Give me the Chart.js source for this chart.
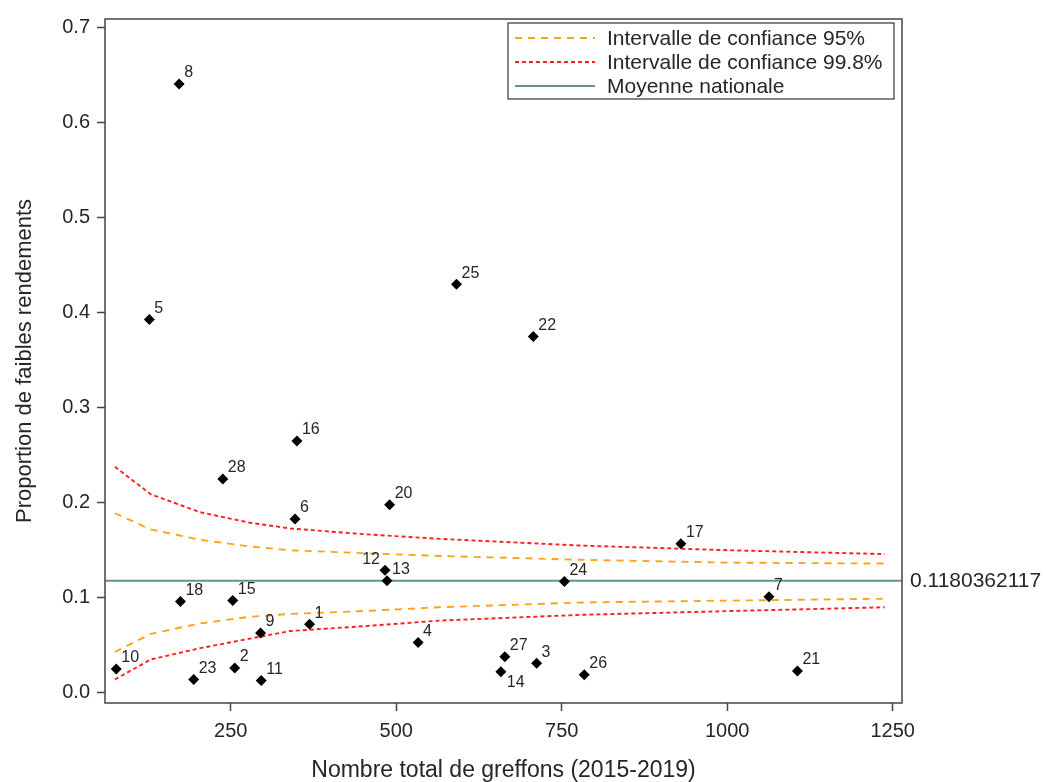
<!DOCTYPE html>
<html>
<head>
<meta charset="utf-8">
<script src="https://cdn.jsdelivr.net/npm/chart.js@4.4.1/dist/chart.umd.min.js"></script>
<style>
  html, body { margin: 0; padding: 0; background: #fff; }
</style>
</head>
<body>
<canvas id="funnel" width="1046" height="782"></canvas>
<script>
// centres (numéro), nombre total de greffons, proportion de faibles rendements
const centreIds = [1, 2, 3, 4, 5, 6, 7, 8, 9, 10, 11, 12, 13, 14, 15, 16, 17, 18, 20, 21, 22, 23, 24, 25, 26, 27, 28];
const greffons = [369, 256, 712, 533, 127, 347, 1063, 172, 295, 77, 296, 483, 486, 658, 253, 350, 930, 174, 490, 1106, 707, 194, 754, 591, 784, 664, 238];
const proportions = [0.072, 0.026, 0.031, 0.053, 0.393, 0.183, 0.101, 0.641, 0.063, 0.025, 0.013, 0.129, 0.118, 0.022, 0.097, 0.265, 0.157, 0.096, 0.198, 0.023, 0.375, 0.014, 0.117, 0.430, 0.019, 0.038, 0.225];

// limites de l'entonnoir
const bandN = [75, 129, 204, 279, 340, 450, 566, 778, 1004, 1238];
const upper95 = [0.189, 0.172, 0.161, 0.154, 0.150, 0.147, 0.144, 0.140, 0.137, 0.136];
const lower95 = [0.043, 0.062, 0.073, 0.080, 0.083, 0.086, 0.090, 0.095, 0.097, 0.099];
const upper998 = [0.238, 0.209, 0.190, 0.179, 0.173, 0.167, 0.162, 0.155, 0.150, 0.146];
const lower998 = [0.014, 0.035, 0.047, 0.057, 0.065, 0.070, 0.076, 0.082, 0.086, 0.090];

const moyenne = 0.1180362117;
const xTicks = [250, 500, 750, 1000, 1250];
const yTicks = [0, 0.1, 0.2, 0.3, 0.4, 0.5, 0.6, 0.7];
const xMin = 60, xMax = 1264;
const yMin = -0.0108, yMax = 0.7094;

const FONT = "'Liberation Sans', Arial, sans-serif";
const TEXT = "#262626";
const FRAME = "#444";

const toPoints = (xs, ys) => xs.map((x, i) => ({ x, y: ys[i] }));

// où poser le numéro de chaque centre par rapport au point
const labelPlacement = {
  12: { dx: -5, dy: -11, align: "right" },
  14: { dx: 6, dy: 11, align: "left" },
};

const pointLabels = {
  id: "pointLabels",
  afterDatasetsDraw(chart) {
    const { ctx } = chart;
    const meta = chart.getDatasetMeta(0);
    ctx.save();
    ctx.font = `16px ${FONT}`;
    ctx.fillStyle = TEXT;
    ctx.textBaseline = "middle";
    meta.data.forEach((pt, i) => {
      const id = centreIds[i];
      const p = labelPlacement[id] || { dx: 5, dy: -11, align: "left" };
      ctx.textAlign = p.align;
      ctx.fillText(String(id), pt.x + p.dx, pt.y + p.dy);
    });
    ctx.restore();
  },
};

const frameAndLegend = {
  id: "frameAndLegend",
  afterDraw(chart) {
    const { ctx, chartArea: a } = chart;
    ctx.save();
    ctx.strokeStyle = FRAME;
    ctx.lineWidth = 1.5;
    ctx.strokeRect(a.left, a.top, a.right - a.left, a.bottom - a.top);

    // valeur de la moyenne nationale à droite du cadre
    const yMean = chart.scales.y.getPixelForValue(moyenne);
    ctx.fillStyle = TEXT;
    ctx.font = `21px ${FONT}`;
    ctx.textAlign = "left";
    ctx.textBaseline = "middle";
    ctx.fillText(String(moyenne), a.right + 8, yMean + 1);

    // légende
    const bx = 508, by = 23, bw = 386, bh = 76;
    ctx.fillStyle = "#fff";
    ctx.fillRect(bx, by, bw, bh);
    ctx.strokeStyle = "#333";
    ctx.lineWidth = 1.2;
    ctx.strokeRect(bx, by, bw, bh);
    const items = chart.data.datasets.filter((d) => d.legendText);
    items.forEach((d, i) => {
      const y = by + 15 + i * 24;
      ctx.strokeStyle = d.borderColor;
      ctx.lineWidth = d.borderWidth;
      ctx.setLineDash(d.borderDash || []);
      ctx.beginPath();
      ctx.moveTo(bx + 7, y);
      ctx.lineTo(bx + 87, y);
      ctx.stroke();
      ctx.setLineDash([]);
      ctx.fillStyle = TEXT;
      ctx.font = `21px ${FONT}`;
      ctx.fillText(d.legendText, bx + 99, y + 1);
    });
    ctx.restore();
  },
};

const lineSet = (label, data, color, dash, width, legendText) => ({
  label,
  data,
  showLine: true,
  borderColor: color,
  borderWidth: width,
  borderDash: dash,
  pointRadius: 0,
  pointHoverRadius: 0,
  tension: 0,
  fill: false,
  legendText,
});

new Chart(document.getElementById("funnel"), {
  type: "scatter",
  data: {
    datasets: [
      {
        label: "Centres",
        data: toPoints(greffons, proportions),
        pointStyle: "rectRot",
        pointRadius: 5.5,
        pointBorderWidth: 0,
        backgroundColor: "#000",
        borderColor: "#000",
      },
      lineSet("IC 95% haut", toPoints(bandN, upper95), "#FFA31A", [7, 6], 1.9, "Intervalle de confiance 95%"),
      lineSet("IC 95% bas", toPoints(bandN, lower95), "#FFA31A", [7, 6], 1.9, null),
      lineSet("IC 99.8% haut", toPoints(bandN, upper998), "#FF1F1F", [4, 3], 1.9, "Intervalle de confiance 99.8%"),
      lineSet("IC 99.8% bas", toPoints(bandN, lower998), "#FF1F1F", [4, 3], 1.9, null),
      lineSet("Moyenne", toPoints([xMin, xMax], [moyenne, moyenne]), "#5E9A78", [], 2, "Moyenne nationale"),
    ],
  },
  options: {
    responsive: false,
    animation: false,
    devicePixelRatio: 1,
    layout: { padding: { left: 0, top: 15, right: 144, bottom: 0 } },
    plugins: {
      legend: { display: false },
      tooltip: { enabled: false },
    },
    scales: {
      x: {
        type: "linear",
        min: xMin,
        max: xMax,
        afterBuildTicks: (s) => { s.ticks = xTicks.map((v) => ({ value: v })); },
        afterFit: (s) => { s.height = 79; },
        border: { display: false },
        grid: { drawOnChartArea: false, drawTicks: true, tickLength: 8, tickColor: FRAME, tickWidth: 1.5 },
        ticks: { color: TEXT, font: { family: FONT, size: 20 }, padding: 8, callback: (v) => String(v) },
        title: {
          display: true,
          text: "Nombre total de greffons (2015-2019)",
          color: TEXT,
          font: { family: FONT, size: 23 },
          padding: { top: 0, bottom: -2 },
        },
      },
      y: {
        type: "linear",
        min: yMin,
        max: yMax,
        afterBuildTicks: (s) => { s.ticks = yTicks.map((v) => ({ value: v })); },
        afterFit: (s) => { s.width = 105; },
        border: { display: false },
        grid: { drawOnChartArea: false, drawTicks: true, tickLength: 8, tickColor: FRAME, tickWidth: 1.5 },
        ticks: { color: TEXT, font: { family: FONT, size: 20 }, padding: 7, callback: (v) => v.toFixed(1) },
        title: {
          display: true,
          text: "Proportion de faibles rendements",
          color: TEXT,
          font: { family: FONT, size: 22 },
          padding: { top: 12, bottom: 0 },
        },
      },
    },
  },
  plugins: [pointLabels, frameAndLegend],
});
</script>
</body>
</html>
